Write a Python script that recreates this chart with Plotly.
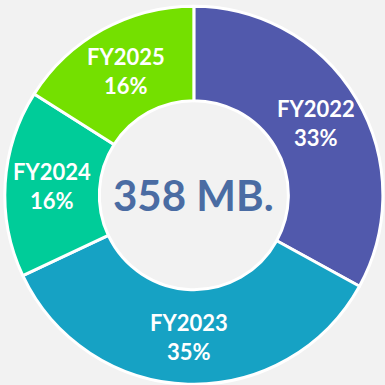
import math
import plotly.graph_objects as go

# Share of total storage by fiscal year
years = ["FY2022", "FY2023", "FY2024", "FY2025"]
shares = [33, 35, 16, 16]
colors = ["#5159AC", "#16A2C4", "#00CC99", "#74E000"]
total_label = "358 MB."

HOLE = 0.5
SIZE = 385
DOM_X = [0.012, 0.995]
DOM_Y = [0.002, 0.984]

fig = go.Figure(
    go.Pie(
        labels=years,
        values=shares,
        hole=HOLE,
        sort=False,
        direction="clockwise",
        rotation=0,
        domain=dict(x=DOM_X, y=DOM_Y),
        marker=dict(colors=colors, line=dict(color="white", width=3)),
        textinfo="none",
        showlegend=False,
        hoverinfo="label+percent",
    )
)

# Slice labels sit in the middle of the ring at each slice's mid-angle
cx = sum(DOM_X) / 2
cy = sum(DOM_Y) / 2
radius = min(DOM_X[1] - DOM_X[0], DOM_Y[1] - DOM_Y[0]) / 2
ring_mid = (1 + HOLE) / 2 * radius
total = sum(shares)
cum = 0
for name, val in zip(years, shares):
    mid = (cum + val / 2) / total * 2 * math.pi
    cum += val
    fig.add_annotation(
        text=f"<b>{name}<br>{round(val / total * 100)}%</b>",
        x=cx + ring_mid * math.sin(mid),
        y=cy + ring_mid * math.cos(mid),
        xref="paper", yref="paper",
        xanchor="center", yanchor="middle",
        showarrow=False,
        font=dict(family="Lato", size=22, color="white"),
    )

fig.add_annotation(
    text=f"<b>{total_label}</b>",
    x=cx, y=cy, xref="paper", yref="paper",
    xanchor="center", yanchor="middle",
    showarrow=False,
    font=dict(family="Lato", size=42, color="#4A6CA3"),
)

fig.update_layout(
    width=SIZE, height=SIZE,
    margin=dict(l=0, r=0, t=0, b=0),
    paper_bgcolor="#F2F2F2",
    plot_bgcolor="#F2F2F2",
)

fig.write_html("out.html")
